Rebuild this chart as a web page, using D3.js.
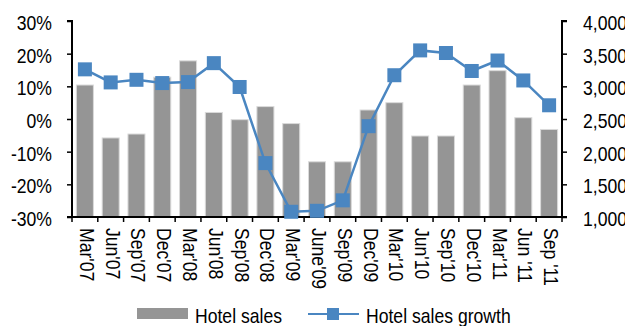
<!DOCTYPE html>
<html>
<head>
<meta charset="utf-8">
<script src="https://cdn.jsdelivr.net/npm/d3@7/dist/d3.min.js"></script>
<style>
  html, body { margin: 0; padding: 0; background: #fff; }
  svg { display: block; }
  text { font-family: "Liberation Sans", Arial, sans-serif; fill: #000; }
</style>
</head>
<body>
<svg id="chart" width="625" height="326"></svg>
<script>
// Quarterly hotel sales (right axis) and year-on-year growth (left axis)
const quarters = ["Mar'07", "Jun'07", "Sep'07", "Dec'07", "Mar'08", "Jun'08", "Sep'08", "Dec'08",
  "Mar'09", "June'09", "Sep'09", "Dec'09", "Mar'10", "Jun'10", "Sep'10", "Dec'10",
  "Mar'11", "Jun '11", "Sep '11"];
const hotelSales = [3020, 2210, 2270, 3140, 3390, 2600, 2490, 2690, 2430, 1845, 1845, 2638,
  2750, 2240, 2240, 3020, 3240, 2520, 2340];
const salesGrowth = [15.2, 11.2, 12.0, 11.0, 11.3, 17.1, 9.8, -13.5, -28.4, -28.1, -24.9, -2.2,
  13.4, 21.0, 20.2, 14.7, 17.9, 11.8, 4.2];
const growthTicks = [-30, -20, -10, 0, 10, 20, 30];
const salesTicks = [1000, 1500, 2000, 2500, 3000, 3500, 4000];
const seriesNames = ["Hotel sales", "Hotel sales growth"];

const FS = 20, SX = 0.88;           // font size and horizontal squeeze of the narrow face
const barColor = "#959595", lineColor = "#4a86c1";
const plotL = 72, plotR = 562, plotT = 21, plotB = 217;

const svg = d3.select("#chart");

const x = d3.scaleBand().domain(quarters).range([plotL, plotR])
  .paddingInner(0.34).paddingOuter(0.17);
const yL = d3.scaleLinear().domain([-30, 30]).range([plotB, plotT]);
const yR = d3.scaleLinear().domain([1000, 4000]).range([plotB, plotT]);

// bars
svg.append("g").selectAll("rect").data(hotelSales).join("rect")
  .attr("x", (d, i) => x(quarters[i]))
  .attr("width", x.bandwidth())
  .attr("y", d => yR(d))
  .attr("height", d => yR(1000) - yR(d))
  .attr("fill", barColor)
  .attr("stroke", "#dadada")
  .attr("stroke-width", 1);

// left axis
const axL = svg.append("g").attr("transform", `translate(${plotL},0)`)
  .call(d3.axisLeft(yL).tickValues(growthTicks).tickFormat(d => d + "%").tickSize(5).tickPadding(15));
// right axis
const axR = svg.append("g").attr("transform", `translate(${plotR},0)`)
  .call(d3.axisRight(yR).tickValues(salesTicks).tickFormat(d3.format(",")).tickSize(5).tickPadding(16));

[axL, axR].forEach(ax => {
  ax.select(".domain").attr("stroke", "#000").attr("stroke-width", 2)
    .attr("d", ax === axL ? `M-5,${plotT}H0V${plotB}H-5` : `M5,${plotT}H0V${plotB}H5`);
  ax.selectAll(".tick line").attr("stroke", "#000").attr("stroke-width", 1.5);
  ax.selectAll(".tick text").attr("font-size", FS).attr("font-family", "Liberation Sans, Arial, sans-serif")
    .attr("fill", "#000").attr("dy", "0.42em")
    .attr("transform", `scale(${SX},1)`)
    .attr("x", function () { return +d3.select(this).attr("x") / SX; });
});

// bottom axis: line and ticks on the category boundaries
const bounds = d3.range(quarters.length + 1).map(i => plotL + (plotR - plotL) * i / quarters.length);
const axB = svg.append("g");
axB.append("line").attr("x1", plotL - 1).attr("x2", plotR + 1).attr("y1", plotB).attr("y2", plotB)
  .attr("stroke", "#000").attr("stroke-width", 2);
axB.selectAll("line.tk").data(bounds).join("line").attr("class", "tk")
  .attr("x1", d => d).attr("x2", d => d).attr("y1", plotB).attr("y2", plotB + 5)
  .attr("stroke", "#000").attr("stroke-width", 1.5);
axB.selectAll("text").data(quarters).join("text")
  .attr("transform", d => `translate(${x(d) + x.bandwidth() / 2},${plotB + 11}) rotate(90) scale(${SX},1)`)
  .attr("dy", 5)
  .attr("font-size", FS)
  .attr("text-anchor", "start")
  .text(d => d);

// growth line with square markers
const line = d3.line().x((d, i) => x(quarters[i]) + x.bandwidth() / 2).y(d => yL(d));
svg.append("path").datum(salesGrowth).attr("d", line)
  .attr("fill", "none").attr("stroke", lineColor).attr("stroke-width", 2.5);
const M = 14;
svg.append("g").selectAll("rect").data(salesGrowth).join("rect")
  .attr("x", (d, i) => x(quarters[i]) + x.bandwidth() / 2 - M / 2)
  .attr("y", d => yL(d) - M / 2)
  .attr("width", M).attr("height", M)
  .attr("fill", lineColor);

// legend
const lg = svg.append("g");
lg.append("rect").attr("x", 137).attr("y", 308).attr("width", 51).attr("height", 11).attr("fill", barColor);
lg.append("text").attr("transform", `translate(195,322.5) scale(${SX},1)`).attr("font-size", FS).text(seriesNames[0]);
lg.append("line").attr("x1", 308).attr("x2", 359).attr("y1", 314).attr("y2", 314)
  .attr("stroke", lineColor).attr("stroke-width", 2);
lg.append("rect").attr("x", 327).attr("y", 308).attr("width", 12).attr("height", 12).attr("fill", lineColor);
lg.append("text").attr("transform", `translate(366,322.5) scale(${SX},1)`).attr("font-size", FS).text(seriesNames[1]);
</script>
</body>
</html>
